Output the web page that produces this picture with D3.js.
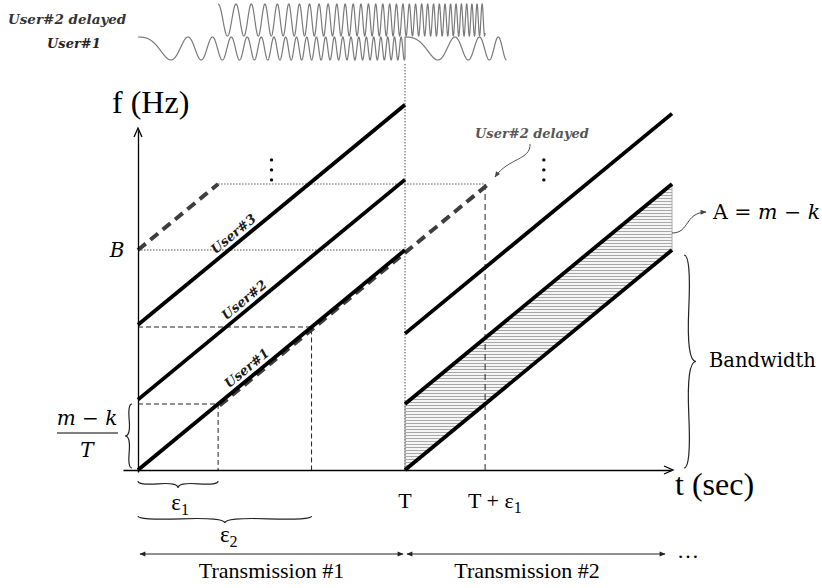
<!DOCTYPE html>
<html>
<head>
<meta charset="utf-8">
<script src="https://cdn.jsdelivr.net/npm/d3@7"></script>
<style>
	html, body { margin: 0; padding: 0; background: #fff; }
	svg { display: block; }
	.times { font-family: "Liberation Serif", "Times New Roman", serif; }
	.camb { font-family: "DejaVu Serif", serif; }
</style>
</head>
<body>
<div class="chart"></div>
<script>
(function () {

	// time in units of T, frequency in units of B
	var T = 1, B = 1;
	var eps = [0.3, 0.65];                     // ε1, ε2
	var users = ["User#1", "User#2", "User#3"];
	var start1 = [0, 0.32, 0.66];              // start frequency, transmission #1
	var start2 = [0, 0.3, 0.62];               // start frequency, transmission #2
	var labelAt = [0.43, 0.42, 0.38];          // t where each user label sits
	var delayedUpper = [[0, 1], [0.3, 1.3]];   // User#2 delayed, wrapped part
	var delayedLower = [[0.3, 0.3], [1.3, 1.3]];
	var vdots = [[0.5, 1.364], [1.52, 1.364]];
	// chirp phase in cycles: a*t + b*t^2
	var chirpA = 1.6, chirpB = 20;
	var wave1 = [[0, 1], [1, 1.38]];           // User#1 pieces (t from, t to)
	var wave2 = [[0.3, 1.3]];                  // User#2 delayed

	var W = 822, H = 588;

	var svg = d3.select(".chart")
		.append("svg")
		.attr("width", W)
		.attr("height", H);

	var x = d3.scaleLinear().domain([0, T]).range([138, 405]);
	var y = d3.scaleLinear().domain([0, B]).range([470, 250]);
	var line = d3.line().x(function(d) { return x(d[0]); }).y(function(d) { return y(d[1]); });

	var defs = svg.append("defs");
	var hatch = defs.append("pattern")
		.attr("id", "hatch")
		.attr("patternUnits", "userSpaceOnUse")
		.attr("width", 6).attr("height", 3);
	hatch.append("rect").attr("width", 6).attr("height", 3).attr("fill", "#f5f5f5");
	hatch.append("rect").attr("width", 6).attr("height", 1).attr("fill", "#a8a8a8");

	function head(id, color) {
		defs.append("marker")
			.attr("id", id)
			.attr("viewBox", "0 -5 10 10")
			.attr("refX", 9).attr("refY", 0)
			.attr("markerUnits", "userSpaceOnUse")
			.attr("markerWidth", 7).attr("markerHeight", 6)
			.attr("orient", "auto-start-reverse")
			.append("path")
			.attr("d", "M0,-4L10,0L0,4Z")
			.attr("fill", color);
	}
	head("tri", "#222");
	head("tri2", "#444");

	// hatched band of transmission #2
	svg.append("path")
		.attr("d", line([[T, start2[0]], [2 * T, start2[0] + B], [2 * T, start2[1] + B], [T, start2[1]]]) + "Z")
		.attr("fill", "url(#hatch)")
		.attr("stroke", "#aaa")
		.attr("stroke-width", 1);

	// dotted guides
	var dotted = svg.append("g")
		.attr("fill", "none")
		.attr("stroke", "#555")
		.attr("stroke-width", 1)
		.attr("stroke-dasharray", "1.5,1.5");
	dotted.append("path").attr("d", line([[0, B], [T, B]]));
	dotted.append("path").attr("d", line([[eps[0], B + eps[0]], [T + eps[0], B + eps[0]]]));
	dotted.append("line")
		.attr("x1", x(T)).attr("x2", x(T))
		.attr("y1", 64).attr("y2", y(0));

	// dashed guides for ε1, ε2 and T + ε1
	var dashed = svg.append("g")
		.attr("fill", "none")
		.attr("stroke", "#222")
		.attr("stroke-width", 1)
		.attr("stroke-dasharray", "5,3");
	eps.forEach(function(e) {
		dashed.append("path").attr("d", line([[0, e], [e, e], [e, 0]]));
	});
	dashed.append("path")
		.attr("stroke-dasharray", "6,4")
		.attr("d", line([[T + eps[0], B + eps[0]], [T + eps[0], 0]]));

	// User#2 delayed (thick grey dashes)
	var del = svg.append("g")
		.attr("fill", "none")
		.attr("stroke", "#3e3e3e")
		.attr("stroke-width", 4)
		.attr("stroke-dasharray", "10,6");
	del.append("path").attr("d", line(delayedUpper));
	del.append("path").attr("d", line(delayedLower)).attr("transform", "translate(1.5,1.5)");

	// user chirps
	var sweeps = svg.append("g")
		.attr("fill", "none")
		.attr("stroke", "#000")
		.attr("stroke-width", 3.8);
	start1.forEach(function(s) {
		sweeps.append("path").attr("d", line([[0, s], [T, s + B]]));
	});
	start2.forEach(function(s) {
		sweeps.append("path").attr("d", line([[T, s], [2 * T, s + B]]));
	});

	var ang = Math.atan2(y(0) - y(1), x(1) - x(0)) * 180 / Math.PI;
	users.forEach(function(u, i) {
		var t = labelAt[i];
		svg.append("text")
			.attr("class", "camb")
			.attr("transform", "translate(" + x(t) + "," + y(start1[i] + t) + ") rotate(" + (-ang) + ")")
			.attr("dy", -5)
			.attr("text-anchor", "middle")
			.attr("font-size", 13)
			.attr("font-weight", "bold")
			.attr("font-style", "italic")
			.attr("fill", "#1a1a1a")
			.text(u);
	});

	// axes
	var xAxisScale = x.copy().domain([x.invert(123), x.invert(671)]).range([123, 671]);
	var yAxisScale = y.copy().domain([y.invert(472), y.invert(130)]).range([472, 130]);
	svg.append("g")
		.attr("transform", "translate(0," + y(0) + ")")
		.call(d3.axisBottom(xAxisScale).tickValues([]).tickSizeOuter(0))
		.select(".domain").attr("stroke-width", 1.3);
	svg.append("g")
		.attr("transform", "translate(" + x(0) + ",0)")
		.call(d3.axisLeft(yAxisScale).tickValues([]).tickSizeOuter(0))
		.select(".domain").attr("stroke-width", 1.3);
	svg.append("path")
		.attr("d", "M664,466L673," + y(0) + "L664,474")
		.attr("fill", "none").attr("stroke", "#000").attr("stroke-width", 1.3);
	svg.append("path")
		.attr("d", "M134,137L" + x(0) + ",128L142,137")
		.attr("fill", "none").attr("stroke", "#000").attr("stroke-width", 1.3);

	// vertical ellipses
	vdots.forEach(function(d) {
		[-10, 0, 10].forEach(function(o) {
			svg.append("circle")
				.attr("cx", x(d[0])).attr("cy", y(d[1]) + o)
				.attr("r", 1.7).attr("fill", "#111");
		});
	});

	// waveforms on top
	var wy1 = d3.scaleLinear().domain([-1, 1]).range([60, 37]);
	var wy2 = d3.scaleLinear().domain([-1, 1]).range([36, 4]);
	function cyc(t) { return chirpA * t + chirpB * t * t; }
	function wavePts(pieces, base, wy) {
		var pts = [];
		pieces.forEach(function(p) {
			var c0 = cyc(p[0] - base(p[0]));
			for (var t = p[0]; t <= p[1]; t += 0.0004) {
				var c = cyc(t - base(p[0])) - c0;
				pts.push([x(t), wy(Math.cos(2 * Math.PI * c))]);
			}
		});
		return pts;
	}
	var wl = d3.line();
	svg.append("path")
		.attr("d", wl(wavePts(wave1, function(t0) { return t0; }, wy1)))
		.attr("fill", "none").attr("stroke", "#7a7a7a").attr("stroke-width", 1.2);
	svg.append("path")
		.attr("d", wl(wavePts(wave2, function() { return 0; }, wy2)))
		.attr("fill", "none").attr("stroke", "#7a7a7a").attr("stroke-width", 1.2);

	function lbl(txt, xx, yy, size, cls, extra) {
		var t = svg.append("text")
			.attr("class", cls)
			.attr("x", xx).attr("y", yy)
			.attr("font-size", size)
			.text(txt);
		if (extra) extra(t);
		return t;
	}
	function bi(t) { t.attr("font-weight", "bold").attr("font-style", "italic"); }

	lbl("User#2 delayed", 8, 24, 13.5, "camb", function(t) { bi(t); t.attr("fill", "#333"); });
	lbl("User#1", 47, 48, 13, "camb", function(t) { bi(t); t.attr("fill", "#222"); });
	lbl("User#2 delayed", 475, 138, 13, "camb", function(t) { bi(t); t.attr("fill", "#555"); });

	lbl("f (Hz)", 112, 113, 32, "times");
	lbl("t (sec)", 675, 495, 32, "times");
	lbl("T", x(T), 508, 22, "times", function(t) { t.attr("text-anchor", "middle"); });

	function sub(t, main, s) {
		t.text(null);
		t.append("tspan").text(main);
		t.append("tspan").attr("font-size", 16).attr("dy", 5).text(s);
	}
	lbl("", 468, 508, 22, "times", function(t) { sub(t, "T + ε", "1"); });
	lbl("", x(eps[0] / 2) + 2, 510, 23, "times", function(t) { t.attr("text-anchor", "middle"); sub(t, "ε", "1"); });
	lbl("", x(eps[1] / 2) + 4, 542, 23, "times", function(t) { t.attr("text-anchor", "middle"); sub(t, "ε", "2"); });

	lbl("B", 117, 257, 20, "camb", function(t) { t.attr("text-anchor", "middle").attr("font-style", "italic"); });
	lbl("", 87, 425, 20, "camb", function(t) {
		t.attr("text-anchor", "middle");
		t.append("tspan").attr("font-style", "italic").text("m");
		t.append("tspan").text(" − ");
		t.append("tspan").attr("font-style", "italic").text("k");
	});
	svg.append("line").attr("x1", 57).attr("x2", 118).attr("y1", 433).attr("y2", 433)
		.attr("stroke", "#000").attr("stroke-width", 1.2);
	lbl("T", 87, 457, 20, "camb", function(t) { t.attr("text-anchor", "middle").attr("font-style", "italic"); });

	lbl("Bandwidth", 709, 367, 19.5, "camb");
	lbl("", 713, 219, 20.5, "camb", function(t) {
		t.append("tspan").text("A = ");
		t.append("tspan").attr("font-style", "italic").text("m");
		t.append("tspan").text(" − ");
		t.append("tspan").attr("font-style", "italic").text("k");
	});

	lbl("Transmission #1", (x(0) + x(T)) / 2, 578, 22, "times", function(t) { t.attr("text-anchor", "middle"); });
	lbl("Transmission #2", 527, 578, 22, "times", function(t) { t.attr("text-anchor", "middle"); });
	lbl("…", 688, 558, 22, "times", function(t) { t.attr("text-anchor", "middle"); });

	// braces
	function brace(x1, y1, x2, y2, w, q) {
		var dx = x1 - x2, dy = y1 - y2, len = Math.sqrt(dx * dx + dy * dy);
		dx /= len; dy /= len;
		var qx1 = x1 + q * w * dy, qy1 = y1 - q * w * dx;
		var qx2 = (x1 - .25 * len * dx) + (1 - q) * w * dy, qy2 = (y1 - .25 * len * dy) - (1 - q) * w * dx;
		var tx1 = (x1 - .5 * len * dx) + w * dy, ty1 = (y1 - .5 * len * dy) - w * dx;
		var qx3 = x2 + q * w * dy, qy3 = y2 - q * w * dx;
		var qx4 = (x1 - .75 * len * dx) + (1 - q) * w * dy, qy4 = (y1 - .75 * len * dy) - (1 - q) * w * dx;
		return "M" + x1 + "," + y1 + "Q" + qx1 + "," + qy1 + " " + qx2 + "," + qy2 + "T" + tx1 + "," + ty1 +
			"M" + x2 + "," + y2 + "Q" + qx3 + "," + qy3 + " " + qx4 + "," + qy4 + "T" + tx1 + "," + ty1;
	}
	var br = svg.append("g").attr("fill", "none").attr("stroke", "#222").attr("stroke-width", 1.2);
	br.append("path").attr("d", brace(x(0), 481, x(eps[0]), 481, 7, 0.6));
	br.append("path").attr("d", brace(x(0), 516, x(eps[1]), 516, 7, 0.6));
	br.append("path").attr("d", brace(684, 468, 684, 255, 12, 0.6));
	br.append("path").attr("d", brace(132, y(0.3), 132, 468, 7, 0.6));

	// transmission arrows
	var ar = svg.append("g").attr("stroke", "#222").attr("stroke-width", 1);
	ar.append("line").attr("x1", x(0) + 2).attr("x2", x(T) - 2).attr("y1", 554).attr("y2", 554)
		.attr("marker-start", "url(#tri)").attr("marker-end", "url(#tri)");
	ar.append("line").attr("x1", x(T) + 2).attr("x2", 665).attr("y1", 554).attr("y2", 554)
		.attr("marker-start", "url(#tri)").attr("marker-end", "url(#tri)");

	// curved callouts
	svg.append("path")
		.attr("d", "M530,144C531,160 508,158 495,177")
		.attr("fill", "none").attr("stroke", "#555").attr("stroke-width", 1)
		.attr("marker-end", "url(#tri2)");
	svg.append("path")
		.attr("d", "M672,233C690,233 684,213 706,212")
		.attr("fill", "none").attr("stroke", "#444").attr("stroke-width", 1)
		.attr("marker-end", "url(#tri2)");

})();
</script>
</body>
</html>
